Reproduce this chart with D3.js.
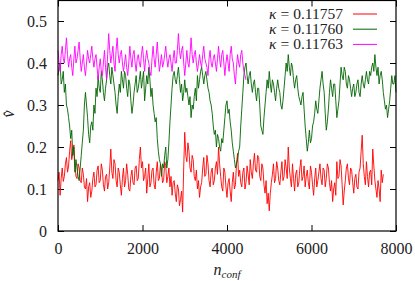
<!DOCTYPE html>
<html>
<head>
<meta charset="utf-8">
<script src="https://cdn.jsdelivr.net/npm/d3@7"></script>
<style>
  html, body { margin: 0; padding: 0; background: #fff; }
  svg text { font-family: "Liberation Serif", "DejaVu Serif", serif; fill: #222; }
</style>
</head>
<body>
<div id="chart"></div>
<script>
// kappa values for the three runs
const kappaLabels = ["0.11757", "0.11760", "0.11763"];
const seriesColours = ["#ff0000", "#006400", "#ff00ff"];
const step = 25; // configurations between stored points

// kappa = 0.11757, n_conf = 0 .. 7700
const vRed = [
  0.120,0.140, 0.085,0.125, 0.150,0.118, 0.130,0.160, 0.175,0.140,
  0.155,0.190, 0.215,0.170, 0.185,0.205, 0.160,0.130, 0.125,0.160,
  0.150,0.120, 0.115,0.150, 0.135,0.105, 0.100,0.125, 0.070,0.105,
  0.115,0.080, 0.095,0.125, 0.140,0.105, 0.110,0.145, 0.155,0.115,
  0.120,0.160, 0.145,0.110, 0.095,0.130, 0.135,0.100, 0.115,0.150,
  0.195,0.140, 0.125,0.170, 0.160,0.120, 0.105,0.150, 0.140,0.110,
  0.085,0.125, 0.150,0.105, 0.120,0.160, 0.135,0.100, 0.095,0.130,
  0.145,0.115, 0.110,0.150, 0.155,0.120, 0.125,0.170, 0.200,0.150,
  0.165,0.120, 0.130,0.150, 0.090,0.125, 0.160,0.105, 0.115,0.145,
  0.150,0.110, 0.100,0.140, 0.165,0.120, 0.125,0.160, 0.145,0.115,
  0.120,0.165, 0.155,0.115, 0.130,0.150, 0.105,0.130, 0.085,0.115,
  0.120,0.090, 0.070,0.110, 0.100,0.060, 0.075,0.095, 0.045,0.150,
  0.235,0.180, 0.165,0.210, 0.190,0.150, 0.140,0.180, 0.170,0.130,
  0.120,0.145, 0.100,0.120, 0.080,0.105, 0.115,0.150, 0.175,0.130,
  0.135,0.180, 0.160,0.120, 0.105,0.140, 0.150,0.110, 0.120,0.150,
  0.165,0.135, 0.200,0.160, 0.130,0.105, 0.095,0.150, 0.140,0.105,
  0.080,0.115, 0.125,0.095, 0.070,0.115, 0.140,0.100, 0.110,0.160,
  0.185,0.130, 0.145,0.115, 0.105,0.140, 0.150,0.100, 0.115,0.155,
  0.135,0.110, 0.170,0.140, 0.125,0.160, 0.185,0.145, 0.140,0.180,
  0.175,0.130, 0.120,0.160, 0.150,0.110, 0.090,0.120, 0.065,0.090,
  0.048,0.090, 0.115,0.135, 0.160,0.115, 0.125,0.165, 0.150,0.120,
  0.110,0.140, 0.165,0.120, 0.130,0.170, 0.150,0.125, 0.200,0.150,
  0.125,0.105, 0.160,0.125, 0.095,0.135, 0.145,0.105, 0.115,0.150,
  0.170,0.120, 0.130,0.155, 0.105,0.130, 0.145,0.115, 0.100,0.155,
  0.140,0.110, 0.085,0.125, 0.150,0.105, 0.120,0.140, 0.160,0.125,
  0.110,0.150, 0.145,0.105, 0.125,0.160, 0.150,0.115, 0.095,0.120,
  0.070,0.100, 0.115,0.085, 0.165,0.125, 0.130,0.170, 0.155,0.110,
  0.062,0.095, 0.120,0.150, 0.160,0.125, 0.110,0.150, 0.145,0.115,
  0.090,0.125, 0.135,0.105, 0.100,0.140, 0.150,0.190, 0.228,0.160,
  0.130,0.110, 0.165,0.130, 0.105,0.140, 0.145,0.110, 0.195,0.155,
  0.120,0.100, 0.080,0.120, 0.100,0.070, 0.145,0.115, 0.135
];

// kappa = 0.11760, n_conf = 0 .. 8000
const vGreen = [
  0.37,0.39, 0.40,0.35, 0.36,0.38, 0.33,0.35, 0.30,0.29,
  0.27,0.25, 0.22,0.24, 0.18,0.20, 0.14,0.17, 0.15,0.13,
  0.12,0.15, 0.18,0.21, 0.24,0.30, 0.33,0.30, 0.27,0.23,
  0.21,0.25, 0.26,0.24, 0.30,0.28, 0.34,0.32, 0.37,0.34,
  0.33,0.38, 0.36,0.33, 0.31,0.34, 0.36,0.39, 0.40,0.37,
  0.35,0.39, 0.37,0.35, 0.33,0.30, 0.28,0.32, 0.35,0.33,
  0.38,0.36, 0.34,0.38, 0.37,0.34, 0.32,0.36, 0.35,0.31,
  0.28,0.30, 0.33,0.35, 0.37,0.33, 0.34,0.36, 0.38,0.34,
  0.36,0.38, 0.31,0.34, 0.37,0.35, 0.39,0.36, 0.32,0.34,
  0.30,0.28, 0.26,0.27, 0.22,0.19, 0.17,0.16, 0.13,0.16,
  0.15,0.18, 0.20,0.15, 0.17,0.21, 0.26,0.30, 0.34,0.37,
  0.38,0.36, 0.35,0.37, 0.39,0.36, 0.33,0.35, 0.31,0.33,
  0.36,0.33, 0.34,0.32, 0.30,0.32, 0.27,0.30, 0.29,0.32,
  0.34,0.31, 0.37,0.34, 0.36,0.38, 0.39,0.37, 0.35,0.37,
  0.38,0.36, 0.34,0.33, 0.31,0.30, 0.28,0.25, 0.23,0.24,
  0.20,0.23, 0.22,0.20, 0.19,0.22, 0.21,0.24, 0.27,0.30,
  0.31,0.28, 0.29,0.26, 0.24,0.21, 0.19,0.17, 0.15,0.16,
  0.17,0.19, 0.20,0.25, 0.29,0.33, 0.37,0.39, 0.40,0.37,
  0.35,0.37, 0.38,0.35, 0.33,0.35, 0.36,0.33, 0.31,0.34,
  0.34,0.30, 0.25,0.24, 0.23,0.27, 0.30,0.33, 0.36,0.34,
  0.38,0.35, 0.33,0.36, 0.35,0.33, 0.31,0.34, 0.36,0.34,
  0.33,0.30, 0.29,0.31, 0.34,0.37, 0.40,0.38, 0.42,0.39,
  0.37,0.40, 0.39,0.36, 0.34,0.36, 0.37,0.34, 0.32,0.31,
  0.30,0.32, 0.33,0.29, 0.25,0.22, 0.19,0.21, 0.24,0.21,
  0.22,0.25, 0.26,0.28, 0.31,0.29, 0.28,0.31, 0.34,0.36,
  0.38,0.35, 0.33,0.28, 0.24,0.26, 0.29,0.33, 0.36,0.34,
  0.32,0.35, 0.35,0.31, 0.27,0.29, 0.31,0.35, 0.39,0.37,
  0.36,0.39, 0.38,0.35, 0.34,0.37, 0.36,0.34, 0.32,0.34,
  0.35,0.32, 0.33,0.35, 0.36,0.33, 0.32,0.35, 0.37,0.35,
  0.34,0.36, 0.38,0.36, 0.35,0.38, 0.37,0.39, 0.40,0.38,
  0.42,0.39, 0.37,0.39, 0.35,0.37, 0.38,0.36, 0.33,0.31,
  0.29,0.30, 0.27,0.29, 0.31,0.34, 0.37,0.35, 0.35,0.37,
  0.33
];

// kappa = 0.11763, n_conf = 0 .. 4450
const vMagenta = [
  0.43,0.40, 0.38,0.42, 0.44,0.41, 0.40,0.43, 0.46,0.42,
  0.39,0.41, 0.42,0.39, 0.37,0.41, 0.44,0.40, 0.41,0.43,
  0.45,0.41, 0.38,0.40, 0.42,0.39, 0.37,0.40, 0.43,0.41,
  0.40,0.42, 0.44,0.41, 0.39,0.41, 0.42,0.39, 0.36,0.39,
  0.41,0.38, 0.37,0.40, 0.43,0.39, 0.36,0.42, 0.47,0.43,
  0.40,0.42, 0.44,0.40, 0.38,0.43, 0.46,0.42, 0.40,0.42,
  0.43,0.40, 0.38,0.40, 0.42,0.39, 0.37,0.40, 0.44,0.41,
  0.39,0.42, 0.43,0.40, 0.38,0.41, 0.42,0.40, 0.39,0.42,
  0.44,0.41, 0.38,0.41, 0.43,0.41, 0.40,0.38, 0.37,0.41,
  0.44,0.41, 0.39,0.42, 0.45,0.41, 0.38,0.40, 0.42,0.39,
  0.40,0.42, 0.44,0.41, 0.39,0.41, 0.42,0.40, 0.38,0.41,
  0.43,0.40, 0.40,0.43, 0.47,0.43, 0.41,0.43, 0.44,0.40,
  0.37,0.40, 0.43,0.40, 0.39,0.42, 0.46,0.42, 0.40,0.42,
  0.43,0.40, 0.38,0.40, 0.42,0.40, 0.39,0.42, 0.44,0.41,
  0.40,0.39, 0.37,0.41, 0.43,0.40, 0.39,0.41, 0.42,0.40,
  0.38,0.41, 0.44,0.41, 0.39,0.42, 0.43,0.40, 0.37,0.40,
  0.42,0.40, 0.38,0.42, 0.44,0.41, 0.40,0.37, 0.35,0.39,
  0.42,0.40, 0.39,0.42, 0.43,0.40, 0.38,0.37, 0.36
];

const xTicks = [0, 2000, 4000, 6000, 8000];
const yTicks = [0, 0.1, 0.2, 0.3, 0.4, 0.5];
const yTickLabels = ["0", "0.1", "0.2", "0.3", "0.4", "0.5"];

const W = 415, H = 281;
const plot = {left: 58, right: 396, top: 0.5, bottom: 231};
const tickLen = 6;
const FONT = "'Liberation Serif', 'DejaVu Serif', serif";

const svg = d3.select("#chart").append("svg")
    .attr("width", W)
    .attr("height", H);

const x = d3.scaleLinear().domain([0, 8000]).range([plot.left, plot.right]);
const y = d3.scaleLinear().domain([0, 0.55]).range([plot.bottom, 0]);

// axes, ticks pointing inward, mirrored on top/right
const axisFont = g => {
    g.attr("font-family", FONT);
    g.selectAll("text").style("font-size", "16px").style("font-family", FONT).attr("fill", "#222");
};

svg.append("g")
    .attr("transform", `translate(0,${plot.bottom})`)
    .call(d3.axisBottom(x).tickValues(xTicks).tickSize(-tickLen).tickSizeOuter(0).tickPadding(12)
        .tickFormat(d3.format("d")))
    .call(axisFont)
    .call(g => g.select(".domain").remove());

svg.append("g")
    .attr("transform", `translate(${plot.left},0)`)
    .call(d3.axisLeft(y).tickValues(yTicks).tickSize(-tickLen).tickSizeOuter(0).tickPadding(11)
        .tickFormat((d, i) => yTickLabels[i]))
    .call(axisFont)
    .call(g => g.select(".domain").remove());

svg.append("g")
    .attr("transform", `translate(0,${plot.top})`)
    .call(d3.axisTop(x).tickValues(xTicks).tickSize(-tickLen).tickSizeOuter(0).tickFormat(""))
    .call(g => g.select(".domain").remove());

svg.append("g")
    .attr("transform", `translate(${plot.right},0)`)
    .call(d3.axisRight(y).tickValues(yTicks).tickSize(-tickLen).tickSizeOuter(0).tickFormat(""))
    .call(g => g.select(".domain").remove());

// data lines
const allSeries = [vRed, vGreen, vMagenta];
const line = d3.line()
    .x((d, i) => x(i * step))
    .y(d => y(d));

svg.append("g")
    .selectAll("path")
    .data(allSeries)
    .enter()
    .append("path")
    .attr("fill", "none")
    .attr("stroke", (d, i) => seriesColours[i])
    .attr("stroke-width", 0.9)
    .attr("d", line);

// frame
svg.append("rect")
    .attr("x", plot.left)
    .attr("y", plot.top)
    .attr("width", plot.right - plot.left)
    .attr("height", plot.bottom - plot.top)
    .attr("fill", "none")
    .attr("stroke", "#000")
    .attr("stroke-width", 1.2);

// legend
const legend = svg.append("g");
kappaLabels.forEach((lab, i) => {
    const ly = 14 + i * 15.2;
    const t = legend.append("text")
        .attr("x", 343)
        .attr("y", ly + 5)
        .attr("text-anchor", "end")
        .style("font-family", FONT)
        .style("font-size", "15.5px");
    t.append("tspan").style("font-style", "italic").text("\u03ba");
    t.append("tspan").attr("dx", 4).text("=");
    t.append("tspan").attr("dx", 4).text(lab);
    legend.append("line")
        .attr("x1", 353).attr("x2", 377)
        .attr("y1", ly).attr("y2", ly)
        .attr("stroke", seriesColours[i])
        .attr("stroke-width", 1);
});

// axis labels
const xl = svg.append("text")
    .attr("x", x(4000))
    .attr("y", 275)
    .attr("text-anchor", "middle")
    .style("font-family", FONT)
    .style("font-size", "16px")
    .style("font-style", "italic");
xl.append("tspan").text("n");
xl.append("tspan").attr("dy", 3).style("font-size", "11px").text("conf");

svg.append("text")
    .attr("transform", "translate(14,114) rotate(-90)")
    .attr("text-anchor", "middle")
    .style("font-family", FONT)
    .style("font-size", "16px")
    .style("font-style", "italic")
    .text("v\u0302");
</script>
</body>
</html>
